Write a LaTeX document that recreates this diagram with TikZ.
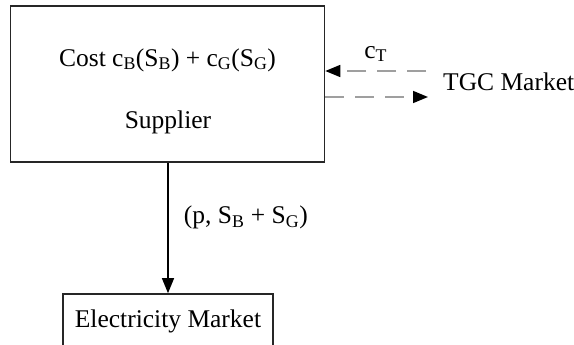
\documentclass[tikz,border=0pt]{standalone}
\usepackage{fontspec}
\setmainfont{Liberation Serif}
\usetikzlibrary{arrows.meta,positioning}

\tikzset{
  box/.style={draw=black!85, line width=1.6pt, inner sep=0pt},
  flow/.style={line width=1.3pt, -{Triangle[length=15pt,width=12pt]}},
  tgcflow/.style={gray!75, line width=1.6pt, dash pattern=on 19pt off 11pt,
    -{Triangle[length=15pt,width=12pt,color=black]}},
}

\begin{document}
\begin{tikzpicture}[x=1pt, y=-1pt, font=\fontsize{25.5pt}{30pt}\selectfont,
    line cap=butt]
  \useasboundingbox (0,0) rectangle (574,345);
  \begin{scope}
    \clip (0,0) rectangle (574,345);
    % boxes
    \node[box, minimum width=314pt, minimum height=156pt] (supplier) at (167.5,84) {};
    \node[box, minimum width=210pt, minimum height=54pt] (elec) at (168,321) {Electricity Market};
    % texts in the supplier box
    \node (cost) at (167.5,60) {Cost c\textsubscript{B}(S\textsubscript{B}) + c\textsubscript{G}(S\textsubscript{G})};
    \node (supplierlabel) at (168,122) {Supplier};
    \node[anchor=west, inner sep=0pt] (tgc) at (443,82) {TGC Market};
    % free ends of the dashed links
    \coordinate (tgcin) at (426,71);
    \coordinate (tgcout) at (428,97);
    % connectors
    \draw[flow] (supplier.south -| elec.north) -- node[pos=0.42, right=12pt]
      {(p, S\textsubscript{B} + S\textsubscript{G})} (elec.north);
    \draw[tgcflow] (tgcin) -- node[above=5pt, text=black] {c\textsubscript{T}} (supplier.east |- tgcin);
    \draw[tgcflow] (supplier.east |- tgcout) -- (tgcout);
  \end{scope}
\end{tikzpicture}
\end{document}
